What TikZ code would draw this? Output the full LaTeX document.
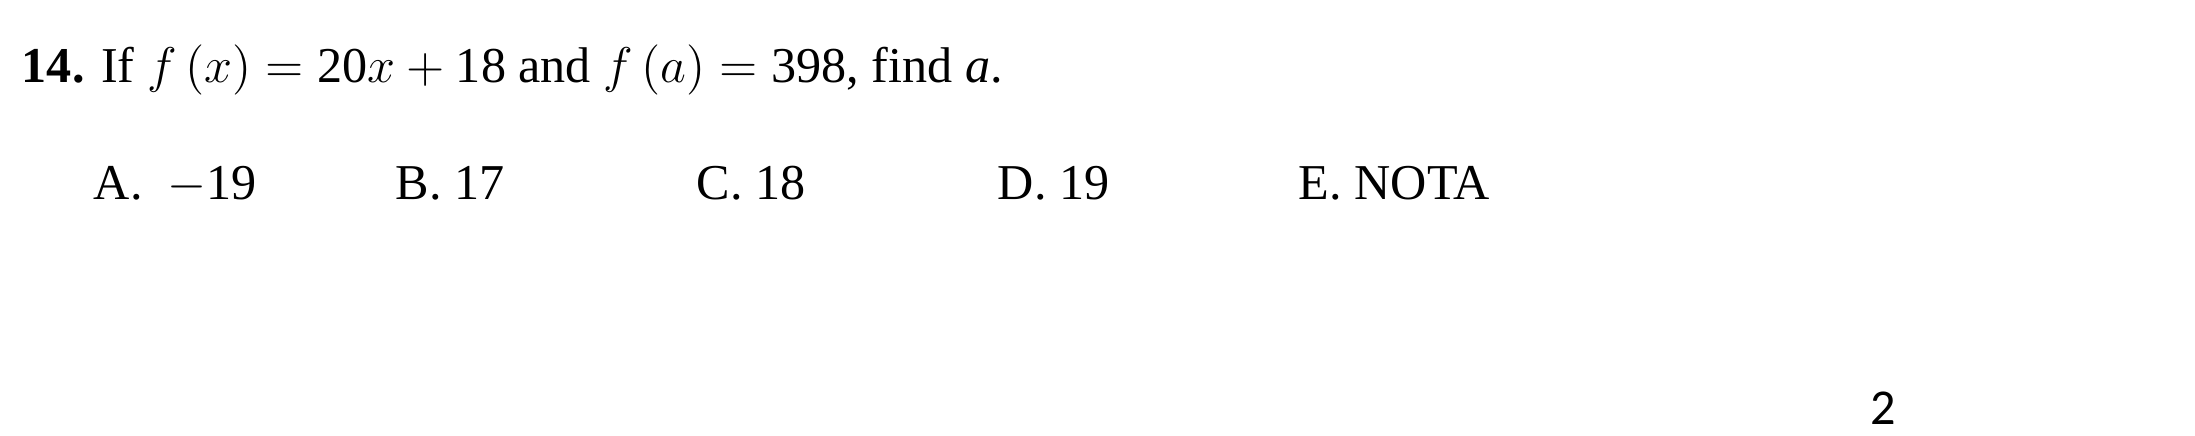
\documentclass[tikz,border=0pt]{standalone}
\usepackage{fontspec}
\setmainfont{Liberation Serif}
\newfontfamily\pagenumfont{Carlito}
\usetikzlibrary{positioning}

\newcommand{\dg}[1]{\mbox{#1}}

\begin{document}
\begin{tikzpicture}[
    x=0.2392pt, y=-0.2392pt,
    txt/.style={inner sep=0pt, anchor=base west, font=\fontsize{12pt}{14pt}\selectfont},
    choice/.style={txt},
]
\useasboundingbox (0,0) rectangle (2195,436);

% Question
\node[txt] (question) at (21,83) {\textbf{14.} If $f\,(x) = \dg{20}x + \dg{18}$ and $f\,(a) = \dg{398}$, find \textit{a}.};

% Answer choices, one inch apart
\node[choice] (choiceA) at (93,200) {A.\ \ $-$19};
\node[choice] (choiceB) at (395,200) {B. 17};
\node[choice] (choiceC) at (696,200) {C. 18};
\node[choice] (choiceD) at (997,200) {D. 19};
\node[choice] (choiceE) at (1298,200) {E. NOTA};

% Page number
\node[txt, font=\pagenumfont\fontsize{12pt}{14pt}\selectfont] (pagenum) at (1870,424) {2};

\end{tikzpicture}
\end{document}
